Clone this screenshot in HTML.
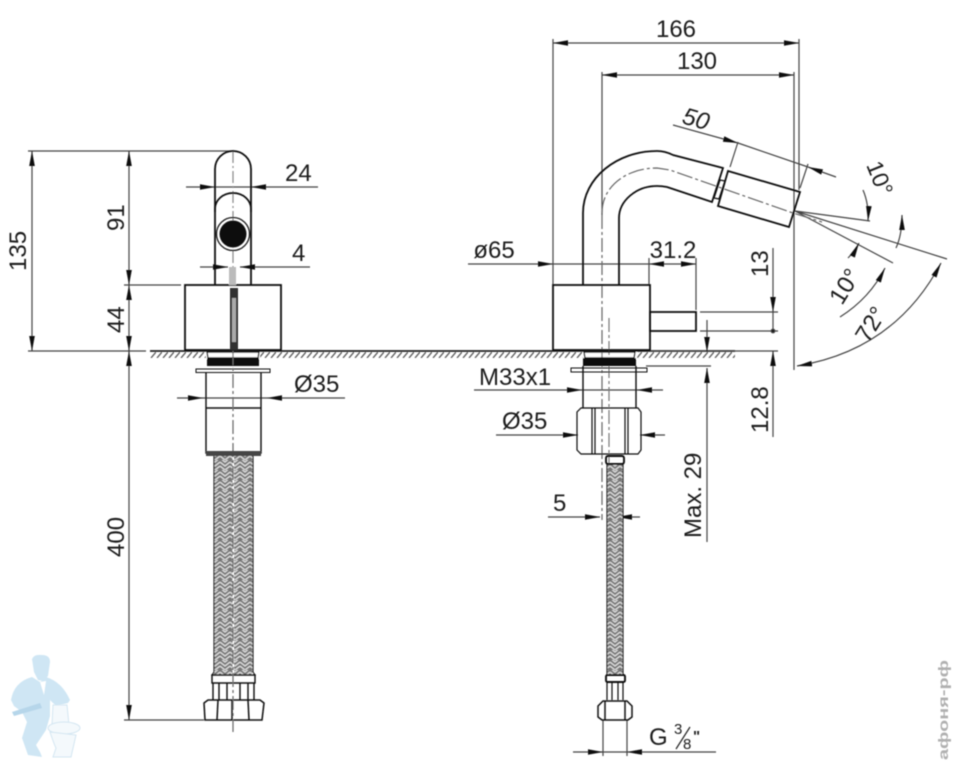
<!DOCTYPE html>
<html><head><meta charset="utf-8"><style>
html,body{margin:0;padding:0;background:#fff;width:957px;height:769px;overflow:hidden}
svg{display:block}
text{font-family:"Liberation Sans",sans-serif;font-size:24px;fill:#1e1e1e}
</style></head><body>
<svg width="957" height="769" viewBox="0 0 957 769" xmlns="http://www.w3.org/2000/svg">
<defs>
<marker id="a" markerUnits="userSpaceOnUse" markerWidth="16" markerHeight="8" refX="15" refY="4" orient="auto-start-reverse"><path d="M0 1.2L15 4L0 6.8Z" fill="#111"/></marker>
<pattern id="h" width="6" height="6" patternUnits="userSpaceOnUse" patternTransform="translate(150 352)"><path d="M1 6L6 0" stroke="#666" stroke-width="1.4"/></pattern>
<pattern id="b" width="10" height="10" patternUnits="userSpaceOnUse"><rect width="10" height="10" fill="#777"/><path d="M0 2L5 6L10 2M0 6L5 10L10 6M0 -2L5 2L10 -2" stroke="#ddd" stroke-width="1.3" fill="none"/></pattern>
<filter id="s" x="-5%" y="-5%" width="110%" height="110%"><feGaussianBlur stdDeviation="0.45"/></filter>
<filter id="s2"><feGaussianBlur stdDeviation="0.6"/></filter>
</defs>
<rect width="957" height="769" fill="#fff"/>
<g filter="url(#s)">
<rect x="150" y="352" width="585" height="6" fill="url(#h)"/>
<rect x="206" y="352" width="54" height="7" fill="#fff"/>
<rect x="583" y="352" width="54" height="7" fill="#fff"/>
<path d="M150 351H735" stroke="#222" stroke-width="1.7"/>
<g fill="none" stroke="#444" stroke-width="1.2">
<path d="M28 151H233M124 285H181M28 351H146M124 720H204"/>
<path d="M32 151V351" marker-start="url(#a)" marker-end="url(#a)"/>
<path d="M129 151V285" marker-start="url(#a)" marker-end="url(#a)"/>
<path d="M129 285V351" marker-start="url(#a)" marker-end="url(#a)"/>
<path d="M129 351V720" marker-start="url(#a)" marker-end="url(#a)"/>
<path d="M186 187H215" marker-end="url(#a)"/><path d="M318 187H251" marker-end="url(#a)"/><path d="M215 187H251"/>
<path d="M200 267H228" marker-end="url(#a)"/><path d="M310 267H240" marker-end="url(#a)"/>
<path d="M177 398H203" marker-end="url(#a)"/><path d="M345 398H267" marker-end="url(#a)"/><path d="M203 398H267"/>
<path d="M553 39V285M602 72V215M799 39V190M794 72V370"/>
<path d="M553 43H799" marker-start="url(#a)" marker-end="url(#a)"/>
<path d="M602 75H794" marker-start="url(#a)" marker-end="url(#a)"/>
<path d="M468 264H553" marker-end="url(#a)"/><path d="M553 264H649"/>
<path d="M649 264H696" marker-start="url(#a)" marker-end="url(#a)"/>
<path d="M649 258V285M696 258V310"/>
<path d="M700 312H778M700 331H778M650 351H778M646 366H711"/>
<path d="M773 248V312" marker-end="url(#a)"/><path d="M773 331V312"/>
<path d="M773 437V351" marker-end="url(#a)"/><circle cx="773" cy="331" r="1.8" fill="#111"/>
<path d="M707 320V352" marker-end="url(#a)"/><path d="M707 542V368" marker-end="url(#a)"/>
<path d="M474 390H582" marker-end="url(#a)"/><path d="M663 390H637" marker-end="url(#a)"/><path d="M582 390H637"/>
<path d="M496 435H578" marker-end="url(#a)"/><path d="M665 435H640" marker-end="url(#a)"/>
<path d="M548 517H600" marker-end="url(#a)"/><path d="M640 517H617" marker-end="url(#a)"/>
<path d="M603 720V756M627 720V756"/>
<path d="M573 752H603" marker-end="url(#a)"/><path d="M716 752H627" marker-end="url(#a)"/><path d="M603 752H627"/>
<path d="M673 125L738 143" marker-end="url(#a)"/><path d="M738 143L808 167"/><path d="M836 177L808 167" marker-end="url(#a)"/>
<path d="M738 142L730 167M808 164L800 188"/>
<path d="M795 211L870 221M795 211L893 263M795 211L947 259"/>
<path d="M863 190Q869 204 868 221" marker-end="url(#a)"/>
<path d="M848 258Q855 251 859 243" marker-end="url(#a)"/>
<path d="M902 215Q902 235 896 248" marker-start="url(#a)"/>
<path d="M840 317Q870 298 885 268" marker-end="url(#a)"/>
<path d="M797 366Q895 350 941 263" marker-start="url(#a)" marker-end="url(#a)"/>
<path d="M233 151V285" stroke-dasharray="12 3 2 3" stroke="#888"/>
<path d="M602 215V520" stroke-dasharray="14 3 3 3" stroke="#666"/>
<path d="M609 318V520" stroke-dasharray="14 3 3 3" stroke="#777"/>
<path d="M602 213C602 185 628 168 657 168L670 170L790 212L822 222" stroke-dasharray="16 3 3 3" stroke="#666"/>
</g>
<rect x="214" y="455" width="18.500" height="220" fill="url(#b)"/><rect x="234" y="455" width="18.500" height="220" fill="url(#b)"/>
<rect x="607" y="463" width="16" height="213" fill="url(#b)"/>
<g fill="none" stroke="#111" stroke-width="1.8">
<path d="M215 285V169a18 18 0 0 1 36 0V285"/>
<path d="M215 212V209c0-9 8-16 18-16s18 7 18 16v3"/>
<rect x="185" y="285" width="96" height="65"/>
<circle cx="233" cy="234" r="16.500" stroke-width="1.2"/>
<path d="M207 352H259L258 358H208Z M206 372V453H261V372M206 408H261" stroke-width="1.4"/>
<rect x="196" y="369" width="74" height="3.500" stroke-width="1"/>
<path d="M214 455V672L212 675H255L253 672V455" stroke-width="1.1"/>
<path d="M212 675H255V683H212ZM213 683V700M219 683V700M227 683V700M240 683V700M248 683V700M254 683V700" stroke-width="1.4"/>
<path d="M204 703L208 700H260L264 703L262 720H205ZM218 700L217 720M232 700V720M248 700L249 720" stroke-width="1.5"/>
<rect x="553" y="285" width="97" height="65"/>
<rect x="650" y="312" width="46" height="19"/>
<path d="M583 285V213C583 178 617 151 657 151Q665 151 673 155L723 168L712 202L667 187Q662 186 657 186C636 186 619 201 619 218V285"/>
<path d="M728 171L800 192L789 227L718 206Z"/>
<path d="M720 180L725 181L719 199L714 198Z" stroke-width="1.3"/>
<path d="M584 352H635L634 358H585Z M583 366V408M636 366V408" stroke-width="1.4"/>
<rect x="571" y="368" width="76" height="4" stroke-width="1"/>
<path d="M581 408H638L641 412V450L638 454H581L577 450V412Z M592 408V454M595 408V454M625 408V454M628 408V454" stroke-width="1.2"/>
<rect x="606" y="456" width="18" height="8" rx="2" stroke-width="1.9"/>
<path d="M607 464V675M623 464V675" stroke-width="1.1"/>
<rect x="606" y="675" width="19" height="7" rx="1.500" stroke-width="1.9"/>
<path d="M607 682V700M612 682V700M618 682V700M623 682V700" stroke-width="1.2"/>
<path d="M598 706L603 701H627L632 706V717L628 720H602L598 717ZM605 701V720M625 701V720" stroke-width="1.5"/>
</g>
<rect x="207" y="358" width="52" height="8" fill="#0a0a0a"/>
<rect x="583" y="358" width="53" height="8" fill="#0a0a0a"/>
<circle cx="233" cy="234" r="13.500" fill="#111"/>
<rect x="230" y="288" width="8" height="62" fill="#333"/>
<rect x="232" y="298" width="4" height="44" fill="#aaa"/>
<rect x="229" y="267" width="7" height="18" fill="#bbb"/>
<path d="M233 351V732" stroke="#666" stroke-width="1.2" stroke-dasharray="14 3 3 3"/>
<rect x="206" y="451" width="55" height="5" fill="#444"/>
<text x="676" y="37" text-anchor="middle">166</text>
<text x="697" y="69" text-anchor="middle">130</text>
<text transform="translate(681 123) rotate(16)" style="font-style:italic">50</text>
<text transform="translate(866 165) rotate(68)" style="font-size:23px">10°</text>
<text transform="translate(842 306) rotate(-58)" style="font-size:24px">10°</text>
<text transform="translate(868 344) rotate(-58)" style="font-size:24px">72°</text>
<text x="494" y="258" text-anchor="middle">ø65</text>
<text x="673" y="258" text-anchor="middle">31.2</text>
<text transform="translate(768 277) rotate(-90)">13</text>
<text transform="translate(768 433) rotate(-90)">12.8</text>
<text transform="translate(701 538) rotate(-90)">Max. 29</text>
<text x="479" y="385">M33x1</text>
<text x="502" y="429">Ø35</text>
<text x="553" y="511">5</text>
<text x="649" y="745">G</text>
<text x="674" y="734" style="font-size:15px">3</text>
<path d="M676 749L690 727" stroke="#222" stroke-width="1.2"/>
<text x="683" y="749" style="font-size:15px">8</text>
<text x="693" y="741" style="font-size:15px;font-weight:bold">"</text>
<text x="285" y="181">24</text>
<text x="292" y="261">4</text>
<text x="294" y="392">Ø35</text>
<text transform="translate(124 231) rotate(-90)">91</text>
<text transform="translate(124 333) rotate(-90)">44</text>
<text transform="translate(26 271) rotate(-90)">135</text>
<text transform="translate(124 557) rotate(-90)">400</text>
</g>
<g filter="url(#s2)" fill="#cfe6f4">
<path d="M32 659Q34 654 42 655Q50 655 50 662L48 676Q44 682 38 680L34 672Z"/>
<path d="M11 700Q14 682 32 677L40 682L46 677Q62 682 70 700L68 703L56 706L50 700V716L46 730L36 745L40 752L42 757L28 755L22 738L27 722L22 712L14 706Z"/>
<path d="M12 712L40 703L42 708L14 716Z" fill="#b6d6ea"/>
<path d="M40 682L46 681L44 695Z" fill="#fff"/>
</g>
<g filter="url(#s2)" fill="#f4f9fc" stroke="#d3e6f2" stroke-width="1">
<path d="M53 705H67L69 725H52Z"/>
<ellipse cx="64" cy="728" rx="16" ry="6"/>
<path d="M50 732Q54 744 56 748L53 757H71L76 735Z"/>
</g>
<text transform="translate(948 760) rotate(-90)" textLength="100" lengthAdjust="spacingAndGlyphs" filter="url(#s2)" style="font-size:14px;fill:#b0b0b0;font-weight:bold">афоня-рф</text>
</svg>
</body></html>
